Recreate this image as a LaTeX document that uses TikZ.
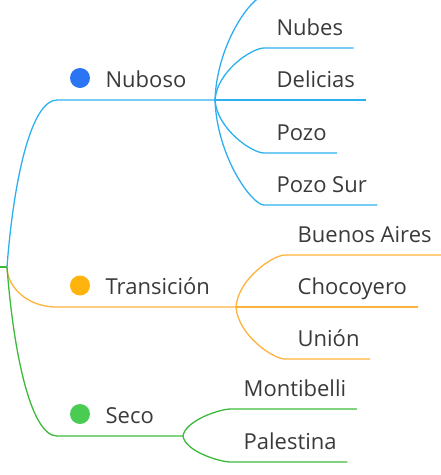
\documentclass[tikz,border=0pt]{standalone}
\usepackage{fontspec}
\setmainfont{Open Sans}
\usetikzlibrary{calc}
\definecolor{cblue}{HTML}{2DB0F0}
\definecolor{corange}{HTML}{FFB23C}
\definecolor{cgreen}{HTML}{3DBA3D}
\definecolor{dblue}{HTML}{2B74F2}
\definecolor{dorange}{HTML}{FFB30D}
\definecolor{dgreen}{HTML}{4ACB52}
\definecolor{txt}{HTML}{3A3A3A}
\begin{document}
\begin{tikzpicture}[x=1pt,y=-1pt,line width=1.3pt,
  lbl/.style={anchor=base west,inner sep=0pt,text=txt,font=\fontsize{22}{26}\selectfont},
  dotnode/.style={circle,inner sep=0pt,minimum size=20pt,draw=none}]
\useasboundingbox (0,0) rectangle (441,475);
\clip (0,0) rectangle (441,475);

% root
\coordinate (rootL) at (-2,267);
\coordinate (root) at (7,267);

% ---- Nuboso ----
\node[lbl] (nub) at (105,87) {Nuboso};
\node[dotnode,fill=dblue] (nubdot) at (80,78) {};
\coordinate (nubL) at (57,100);
\coordinate (nubF) at (215,100);
\node[lbl] (nubes) at (276,35) {Nubes};
\node[lbl] (delicias) at (276,87) {Delicias};
\node[lbl] (pozo) at (276,140) {Pozo};
\node[lbl] (pozosur) at (276,192) {Pozo Sur};
\coordinate (hidS) at (264,-4);
\coordinate (hidE) at (380,-4);

\draw[cblue] (root) .. controls +(7,-92) and +(-25,0) .. (nubL) -- (nubF);
\draw[cblue] (nubF) .. controls +(2,-57) and +(-12,0) .. (hidS) -- (hidE);
\draw[cblue] (nubF) .. controls +(2,-29) and +(-12,0) .. ($(nubes.base west)+(-12,13)$) -- ($(nubes.base east)+(10,13)$);
\draw[cblue] (nubF) -- ($(delicias.base east)+(10,13)$);
\draw[cblue] (nubF) .. controls +(2,29) and +(-12,0) .. ($(pozo.base west)+(-12,13)$) -- ($(pozo.base east)+(10,13)$);
\draw[cblue] (nubF) .. controls +(2,57) and +(-12,0) .. ($(pozosur.base west)+(-12,13)$) -- ($(pozosur.base east)+(10,13)$);

% ---- Transicion ----
\node[lbl] (tra) at (105,294) {Transición};
\node[dotnode,fill=dorange] (tradot) at (80,285.5) {};
\coordinate (traL) at (57,307);
\coordinate (traF) at (236,307);
\node[lbl] (buenos) at (297,242) {Buenos Aires};
\node[lbl] (choco) at (297,294) {Chocoyero};
\node[lbl] (union) at (297,346) {Unión};

\draw[corange] (root) .. controls +(0,18) and +(-32,0) .. (traL) -- (traF);
\draw[corange] (traF) .. controls +(2,-28) and +(-12,0) .. ($(buenos.base west)+(-12,13)$) -- ($(buenos.base east)+(14,13)$);
\draw[corange] (traF) -- ($(choco.base east)+(10,13)$);
\draw[corange] (traF) .. controls +(2,28) and +(-12,0) .. ($(union.base west)+(-12,13)$) -- ($(union.base east)+(10,13)$);

% ---- Seco ----
\node[lbl] (sec) at (105,423) {Seco};
\node[dotnode,fill=dgreen] (secdot) at (80,414) {};
\coordinate (secL) at (57,436);
\coordinate (secF) at (183,436);
\node[lbl] (monti) at (243,396) {Montibelli};
\node[lbl] (pales) at (243,449) {Palestina};

\draw[cgreen] (rootL) -- (root);
\draw[cgreen] (root) .. controls +(7,92) and +(-25,0) .. (secL) -- (secF);
\draw[cgreen] (secF) .. controls +(2,-15) and +(-12,0) .. ($(monti.base west)+(-12,13)$) -- ($(monti.base east)+(10,13)$);
\draw[cgreen] (secF) .. controls +(2,15) and +(-12,0) .. ($(pales.base west)+(-12,13)$) -- ($(pales.base east)+(10,13)$);
\end{tikzpicture}
\end{document}
